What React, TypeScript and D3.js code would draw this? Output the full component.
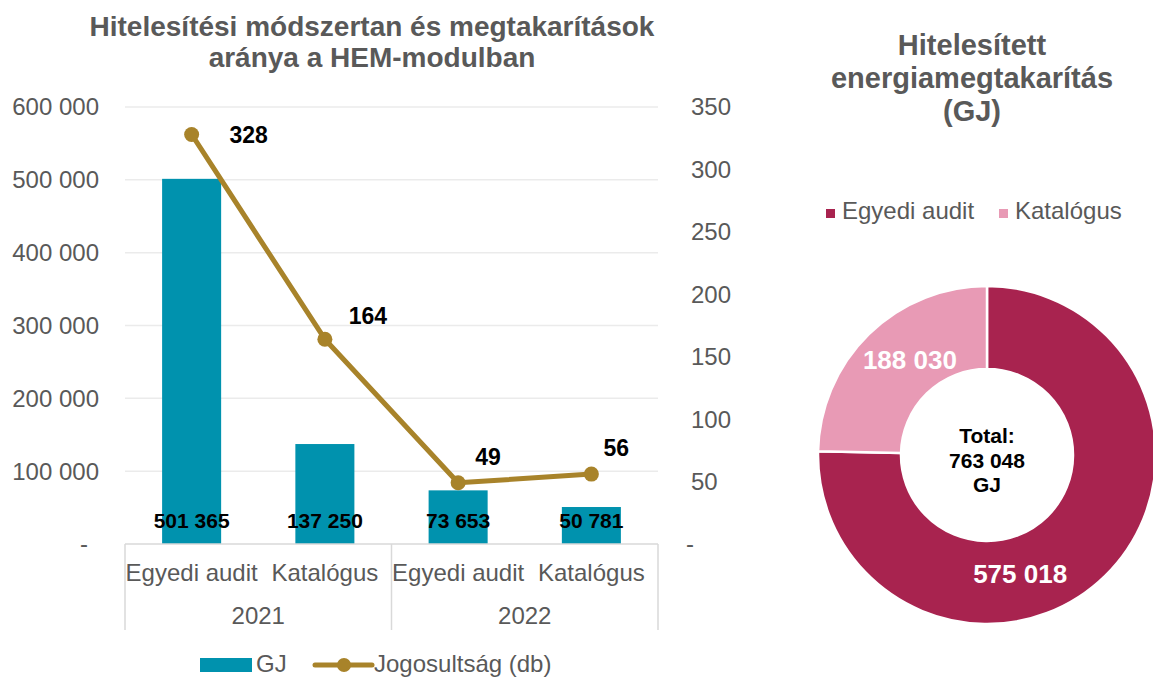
import React, { useRef, useEffect } from 'react';
import * as d3 from 'd3';

// Combo chart data (bars = GJ, line = number of eligible projects)
const years = ['2021', '2022'];
const methods = ['Egyedi audit', 'Katalógus'];
const savingsGJ = [501365, 137250, 73653, 50781];
const eligibleCount = [328, 164, 49, 56];
const leftTicks = [0, 100000, 200000, 300000, 400000, 500000, 600000];
const rightTicks = [0, 50, 100, 150, 200, 250, 300, 350];

// Donut data
const donutLabels = ['Egyedi audit', 'Katalógus'];
const donutValues = [575018, 188030];

// label nudges (as placed in the original)
const lineLabelOffsets = [[57, 9], [43, -15], [30, -18], [25, -18]];
const donutLabelOffsets = [[-56, 28], [12, -4]];

const FONT = '"Liberation Sans", Arial, sans-serif';
const GREY = '#595959';
const BAR = '#0092AE';
const LINE = '#A8832A';
const PIE = ['#A8234F', '#E89AB5'];
const TXT = 24;

const fmt = (v: number) => d3.format(',')(v).replace(/,/g, ' ');

const App: React.FC = () => {
  const ref = useRef<SVGSVGElement | null>(null);

  useEffect(() => {
    if (!ref.current) return;
    const svg = d3.select(ref.current);
    svg.selectAll('*').remove();
    svg.attr('font-family', FONT);

    const cats = years.flatMap(y => methods.map(m => `${y}|${m}`));

    // scales
    const x = d3.scaleBand<string>().domain(cats).range([125, 658]).padding(0);
    const yL = d3.scaleLinear().domain([0, 600000]).range([544, 107]);
    const yR = d3.scaleLinear().domain([0, 350]).range([544, 107]);
    const bw = x.bandwidth() * 0.443;
    const cx = (c: string) => (x(c) || 0) + x.bandwidth() / 2;

    // title
    const title = svg.append('text')
      .attr('text-anchor', 'middle')
      .attr('font-weight', 'bold')
      .attr('font-size', 28)
      .attr('fill', GREY);
    title.append('tspan').attr('x', 372).attr('y', 36).text('Hitelesítési módszertan és megtakarítások');
    title.append('tspan').attr('x', 372).attr('y', 67).text('aránya a HEM-modulban');

    // gridlines
    svg.append('g')
      .selectAll('line')
      .data(leftTicks.filter(t => t > 0))
      .join('line')
      .attr('x1', 125).attr('x2', 658)
      .attr('y1', d => yL(d)).attr('y2', d => yL(d))
      .attr('stroke', '#EBEBEB').attr('stroke-width', 1.5);

    // left axis labels
    svg.append('g')
      .selectAll('text')
      .data(leftTicks)
      .join('text')
      .attr('x', d => d === 0 ? 88 : 99)
      .attr('y', d => yL(d))
      .attr('dy', '0.35em')
      .attr('text-anchor', 'end')
      .attr('font-size', TXT)
      .attr('fill', GREY)
      .text(d => d === 0 ? '-' : fmt(d));

    // right axis labels
    svg.append('g')
      .selectAll('text')
      .data(rightTicks)
      .join('text')
      .attr('x', d => d === 0 ? 686 : 691)
      .attr('y', d => yR(d))
      .attr('dy', '0.35em')
      .attr('text-anchor', 'start')
      .attr('font-size', TXT)
      .attr('fill', GREY)
      .text(d => d === 0 ? '-' : String(d));

    // bars
    svg.append('g')
      .selectAll('rect')
      .data(savingsGJ)
      .join('rect')
      .attr('x', (d, i) => cx(cats[i]) - bw / 2)
      .attr('y', d => yL(d))
      .attr('width', bw)
      .attr('height', d => yL(0) - yL(d))
      .attr('fill', BAR);

    // x axis baseline + category separators
    const axis = svg.append('g').attr('stroke', '#D9D9D9').attr('stroke-width', 1.5);
    axis.append('line').attr('x1', 125).attr('x2', 658).attr('y1', yL(0)).attr('y2', yL(0));
    const seps = [x(cats[0]) || 0, x(cats[2]) || 0, (x(cats[3]) || 0) + x.bandwidth()];
    axis.selectAll('line.sep')
      .data(seps)
      .join('line')
      .attr('class', 'sep')
      .attr('x1', d => d).attr('x2', d => d)
      .attr('y1', yL(0)).attr('y2', 630);

    // category labels
    svg.append('g')
      .selectAll('text')
      .data(cats)
      .join('text')
      .attr('x', d => cx(d))
      .attr('y', 581)
      .attr('text-anchor', 'middle')
      .attr('font-size', TXT)
      .attr('fill', GREY)
      .text(d => d.split('|')[1]);

    svg.append('g')
      .selectAll('text')
      .data(years)
      .join('text')
      .attr('x', (d, i) => (cx(cats[i * 2]) + cx(cats[i * 2 + 1])) / 2)
      .attr('y', 624)
      .attr('text-anchor', 'middle')
      .attr('font-size', TXT)
      .attr('fill', GREY)
      .text(d => d);

    // line
    const pts = eligibleCount.map((v, i) => [cx(cats[i]), yR(v)] as [number, number]);
    svg.append('path')
      .datum(pts)
      .attr('d', d3.line())
      .attr('fill', 'none')
      .attr('stroke', LINE)
      .attr('stroke-width', 5)
      .attr('stroke-linejoin', 'round');
    svg.append('g')
      .selectAll('circle')
      .data(pts)
      .join('circle')
      .attr('cx', d => d[0]).attr('cy', d => d[1])
      .attr('r', 7.5)
      .attr('fill', LINE);

    // bar value labels
    svg.append('g')
      .selectAll('text')
      .data(savingsGJ)
      .join('text')
      .attr('x', (d, i) => cx(cats[i]))
      .attr('y', yL(0) - 16)
      .attr('text-anchor', 'middle')
      .attr('font-size', 21)
      .attr('font-weight', 'bold')
      .attr('fill', '#000')
      .text(d => fmt(d));

    // line value labels
    svg.append('g')
      .selectAll('text')
      .data(eligibleCount)
      .join('text')
      .attr('x', (d, i) => pts[i][0] + lineLabelOffsets[i][0])
      .attr('y', (d, i) => pts[i][1] + lineLabelOffsets[i][1])
      .attr('text-anchor', 'middle')
      .attr('font-size', 23)
      .attr('font-weight', 'bold')
      .attr('fill', '#000')
      .text(d => d);

    // legend
    const lg = svg.append('g').attr('font-size', TXT).attr('fill', GREY);
    lg.append('rect').attr('x', 200).attr('y', 658).attr('width', 52).attr('height', 14).attr('fill', BAR);
    lg.append('text').attr('x', 256).attr('y', 672).text('GJ');
    lg.append('line').attr('x1', 315).attr('x2', 372).attr('y1', 665).attr('y2', 665)
      .attr('stroke', LINE).attr('stroke-width', 5).attr('stroke-linecap', 'round');
    lg.append('circle').attr('cx', 344).attr('cy', 665).attr('r', 7).attr('fill', LINE);
    lg.append('text').attr('x', 374).attr('y', 672).text('Jogosultság (db)');

    // ---- donut ----
    const dcx = 987;
    const dcy = 455;
    const rt = svg.append('text')
      .attr('text-anchor', 'middle')
      .attr('font-weight', 'bold')
      .attr('font-size', 29)
      .attr('fill', GREY);
    ['Hitelesített', 'energiamegtakarítás', '(GJ)'].forEach((t, i) => {
      rt.append('tspan').attr('x', 972).attr('y', 55 + i * 33).text(t);
    });

    const dl = svg.append('g').attr('font-size', TXT).attr('fill', GREY);
    const legX = [826, 999];
    donutLabels.forEach((l, i) => {
      dl.append('rect').attr('x', legX[i]).attr('y', 209).attr('width', 9).attr('height', 9).attr('fill', PIE[i]);
      dl.append('text').attr('x', legX[i] + 16).attr('y', 219).text(l);
    });

    const pie = d3.pie<number>().sort(null).value(d => d);
    const arc = d3.arc<d3.PieArcDatum<number>>().innerRadius(86).outerRadius(169);
    const arcs = pie(donutValues);
    const dg = svg.append('g').attr('transform', `translate(${dcx},${dcy})`);
    dg.selectAll('path')
      .data(arcs)
      .join('path')
      .attr('d', arc)
      .attr('fill', (d, i) => PIE[i])
      .attr('stroke', '#fff')
      .attr('stroke-width', 2.5);

    dg.selectAll('text.val')
      .data(arcs)
      .join('text')
      .attr('class', 'val')
      .attr('x', (d, i) => arc.centroid(d)[0] + donutLabelOffsets[i][0])
      .attr('y', (d, i) => arc.centroid(d)[1] + donutLabelOffsets[i][1])
      .attr('dy', '0.35em')
      .attr('text-anchor', 'middle')
      .attr('font-size', 26)
      .attr('font-weight', 'bold')
      .attr('fill', '#fff')
      .text(d => fmt(d.data));

    const total = d3.sum(donutValues);
    const ct = dg.append('text')
      .attr('text-anchor', 'middle')
      .attr('font-size', 21)
      .attr('font-weight', 'bold')
      .attr('fill', '#000');
    ['Total:', fmt(total), 'GJ'].forEach((t, i) => {
      ct.append('tspan').attr('x', 0).attr('y', -12 + i * 24.5).text(t);
    });
  }, []);

  return (
    <div style={{ position: 'absolute', left: 0, top: 0 }}>
      <svg ref={ref} width={1153} height={677} style={{ display: 'block', background: '#fff' }} />
    </div>
  );
};

export default App;
